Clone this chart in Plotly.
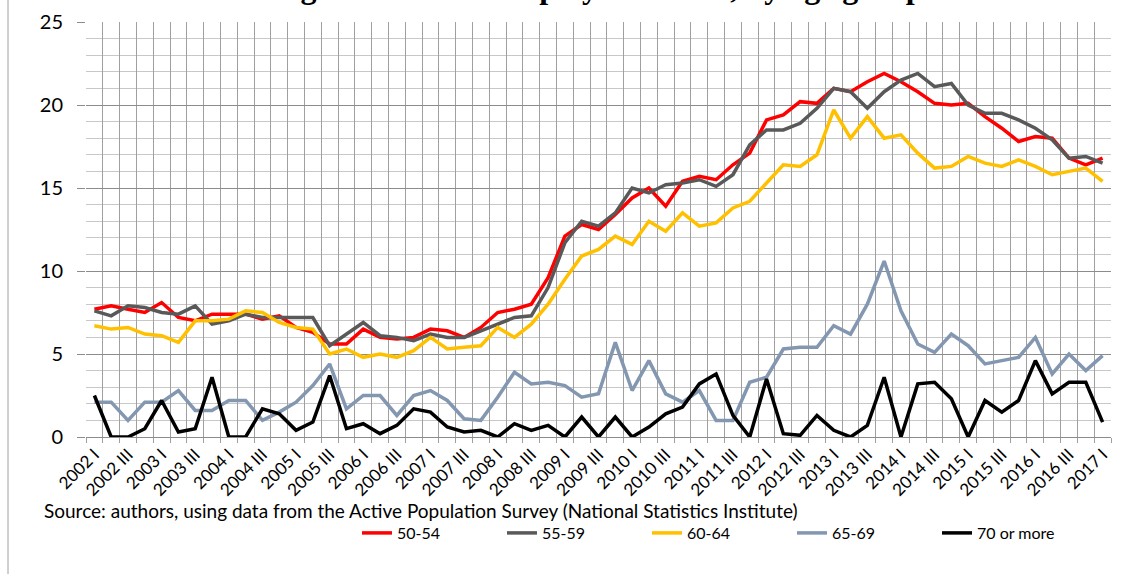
import plotly.graph_objects as go

quarters = [f"{y} {q}" for y in range(2002, 2018) for q in ["I", "II", "III", "IV"]][:61]

tick_labels = ["2002 I", "2002 III", "2003 I", "2003 III", "2004 I", "2004 III", "2005 I", "2005 III",
               "2006 I", "2006 III", "2007 I", "2007 III", "2008 I", "2008 III", "2009 I", "2009 III",
               "2010 I", "2010 III", "2011 I", "2011 III", "2012 I", "2012 III", "2013 I", "2013 III",
               "2014 I", "2014 III", "2015 I", "2015 III", "2016 I", "2016 III", "2017 I"]

age_50_54 = [7.7, 7.9, 7.7, 7.5, 8.1, 7.2, 7.0, 7.4, 7.4, 7.4, 7.1, 7.3, 6.6, 6.3, 5.6, 5.6,
             6.5, 6.0, 5.9, 6.0, 6.5, 6.4, 6.0, 6.6, 7.5, 7.7, 8.0, 9.6, 12.1, 12.8, 12.5, 13.4,
             14.4, 15.0, 13.9, 15.4, 15.7, 15.5, 16.4, 17.1, 19.1, 19.4, 20.2, 20.1, 21.0, 20.8,
             21.4, 21.9, 21.4, 20.8, 20.1, 20.0, 20.1, 19.3, 18.6, 17.8, 18.1, 18.0, 16.8, 16.4, 16.8]

age_55_59 = [7.6, 7.3, 7.9, 7.8, 7.5, 7.4, 7.9, 6.8, 7.0, 7.4, 7.2, 7.2, 7.2, 7.2, 5.5, 6.2,
             6.9, 6.1, 6.0, 5.8, 6.2, 6.0, 6.0, 6.4, 6.8, 7.2, 7.3, 9.0, 11.7, 13.0, 12.7, 13.5,
             15.0, 14.7, 15.2, 15.3, 15.5, 15.1, 15.8, 17.6, 18.5, 18.5, 18.9, 19.8, 21.0, 20.8,
             19.8, 20.8, 21.5, 21.9, 21.1, 21.3, 20.0, 19.5, 19.5, 19.1, 18.6, 17.9, 16.8, 16.9, 16.5]

age_60_64 = [6.7, 6.5, 6.6, 6.2, 6.1, 5.7, 7.0, 7.0, 7.1, 7.6, 7.5, 6.9, 6.6, 6.5, 5.0, 5.3,
             4.8, 5.0, 4.8, 5.2, 6.0, 5.3, 5.4, 5.5, 6.6, 6.0, 6.8, 8.0, 9.5, 10.9, 11.3, 12.1,
             11.6, 13.0, 12.4, 13.5, 12.7, 12.9, 13.8, 14.2, 15.3, 16.4, 16.3, 17.0, 19.7, 18.0,
             19.3, 18.0, 18.2, 17.1, 16.2, 16.3, 16.9, 16.5, 16.3, 16.7, 16.3, 15.8, 16.0, 16.2, 15.4]

age_65_69 = [2.1, 2.1, 1.0, 2.1, 2.1, 2.8, 1.6, 1.6, 2.2, 2.2, 1.0, 1.5, 2.1, 3.1, 4.4, 1.7,
             2.5, 2.5, 1.3, 2.5, 2.8, 2.2, 1.1, 1.0, 2.4, 3.9, 3.2, 3.3, 3.1, 2.4, 2.6, 5.7,
             2.8, 4.6, 2.6, 2.1, 2.8, 1.0, 1.0, 3.3, 3.6, 5.3, 5.4, 5.4, 6.7, 6.2,
             8.0, 10.6, 7.6, 5.6, 5.1, 6.2, 5.5, 4.4, 4.6, 4.8, 6.0, 3.8, 5.0, 4.0, 4.9]

age_70_plus = [2.5, 0.0, 0.0, 0.5, 2.2, 0.3, 0.5, 3.6, 0.0, 0.0, 1.7, 1.4, 0.4, 0.9, 3.7, 0.5,
               0.8, 0.2, 0.7, 1.7, 1.5, 0.6, 0.3, 0.4, 0.0, 0.8, 0.4, 0.7, 0.0, 1.2, 0.0, 1.2,
               0.0, 0.6, 1.4, 1.8, 3.2, 3.8, 1.3, 0.0, 3.5, 0.2, 0.1, 1.3, 0.4, 0.0,
               0.7, 3.6, 0.0, 3.2, 3.3, 2.3, 0.0, 2.2, 1.5, 2.2, 4.6, 2.6, 3.3, 3.3, 0.9]

series = [
    ("50-54", age_50_54, "#FF0000"),
    ("55-59", age_55_59, "#595959"),
    ("60-64", age_60_64, "#FFC000"),
    ("65-69", age_65_69, "#8497B0"),
    ("70 or more", age_70_plus, "#000000"),
]

title_text = "Figure 1. The unemployment rate, by age group"
source_text = "Source: authors, using data from the Active Population Survey (National Statistics Institute)"

FONT = "Lato, 'Open Sans', sans-serif"

fig = go.Figure()
for name, vals, color in series:
    fig.add_trace(go.Scatter(x=quarters, y=vals, name=name, mode="lines",
                             line=dict(color=color, width=3.5)))

ticktext = [q if q in tick_labels else "" for q in quarters]

W, H = 1128, 574
ML, MR, MT, MB = 86, 17, 22, 137
PW, PH = W - ML - MR, H - MT - MB

def px_x(p):
    return (p - ML) / PW

def px_y(p):
    return 1 - (p - MT) / PH

fig.update_layout(
    width=W, height=H,
    margin=dict(l=ML, r=MR, t=MT, b=MB, autoexpand=False),
    paper_bgcolor="white", plot_bgcolor="white",
    font=dict(family=FONT, color="black"),
    showlegend=True,
    legend=dict(orientation="h", x=px_x(357), xanchor="left", y=px_y(533), yanchor="middle",
                font=dict(family=FONT, size=16, color="black"),
                entrywidth=100, entrywidthmode="pixels", bgcolor="rgba(0,0,0,0)"),
    xaxis=dict(type="category", range=[-0.5, 60.5], tickmode="array",
               tickvals=quarters, ticktext=ticktext, tickson="boundaries",
               showgrid=True, gridcolor="#A0A0A0", gridwidth=1,
               ticks="outside", ticklen=5, tickcolor="#A0A0A0",
               tickangle=-45, tickfont=dict(family=FONT, size=17, color="black"),
               showline=True, linecolor="#8C8C8C", linewidth=1, mirror=False),
    yaxis=dict(range=[0, 25], tick0=0, dtick=5, showgrid=True, gridcolor="#8C8C8C", gridwidth=1,
               minor=dict(dtick=1, showgrid=True, gridcolor="#C8C8C8", gridwidth=1),
               ticks="outside", ticklen=8, tickcolor="#8C8C8C", ticklabelstandoff=10,
               tickfont=dict(family=FONT, size=20, color="black"),
               zeroline=False, showline=False),
    annotations=[
        dict(text="<b>" + title_text + "</b>", xref="paper", yref="paper",
             x=px_x(598), y=px_y(7), xanchor="center", yanchor="bottom", showarrow=False,
             font=dict(family="'Liberation Serif', 'Times New Roman', serif", size=32, color="black")),
        dict(text=source_text, xref="paper", yref="paper", x=px_x(42), y=px_y(510),
             xanchor="left", yanchor="middle", showarrow=False,
             font=dict(family=FONT, size=19, color="black")),
    ],
    shapes=[
        dict(type="line", xref="paper", yref="paper", x0=px_x(8), x1=px_x(8),
             y0=px_y(574), y1=px_y(0), line=dict(color="#A0A0A0", width=1)),
    ],
)

fig.write_html("out.html", config={"displayModeBar": False},
               post_script="document.body.style.margin='0';document.body.style.overflow='hidden';")
